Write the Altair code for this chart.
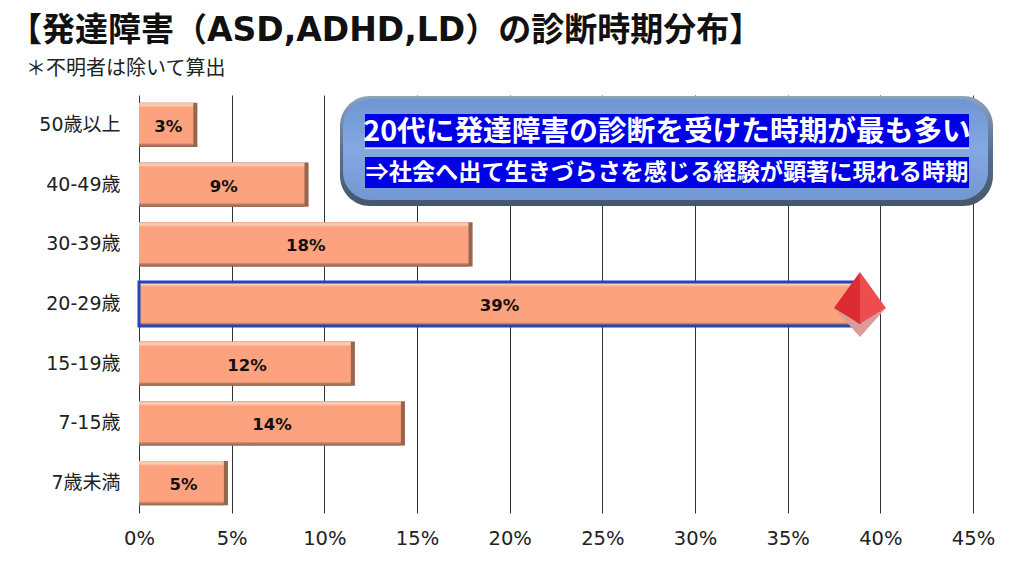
import altair as alt
import pandas as pd

ages = ["50歳以上", "40-49歳", "30-39歳", "20-29歳", "15-19歳", "7-15歳", "7歳未満"]
values = [3.15, 9.15, 18.0, 38.9, 11.65, 14.35, 4.8]
labels = ["3%", "9%", "18%", "39%", "12%", "14%", "5%"]
highlight = [False, False, False, True, False, False, False]
x_ticks = [0, 5, 10, 15, 20, 25, 30, 35, 40, 45]

title_text = "【発達障害（ASD,ADHD,LD）の診断時期分布】"
note_text = "＊不明者は除いて算出"
call_1 = "20代に発達障害の診断を受けた時期が最も多い"
call_2 = "⇒社会へ出て生きづらさを感じる経験が顕著に現れる時期"

FONT = "DejaVu Sans, Noto Sans CJK JP"
JP = "Noto Sans CJK JP"

df = pd.DataFrame({"age": ages, "v": values, "label": labels, "hi": highlight})
df["mid"] = df["v"] / 2
df["inner"] = df["v"] - 0.22

x_scale = alt.Scale(domain=[0, 45], nice=False, zero=True)
x_axis = alt.Axis(values=x_ticks, labelExpr="datum.value + '%'", title=None, grid=True,
                  gridColor="#333333", gridWidth=1, domain=False, ticks=False, labelFlush=False,
                  labelFontSize=19.5, labelPadding=16, labelColor="#222222", labelFont=FONT)
x = alt.X("v:Q", scale=x_scale, axis=x_axis)
y = alt.Y("age:N", sort=ages, scale=alt.Scale(paddingInner=0.26, paddingOuter=0.13),
          axis=alt.Axis(title=None, domain=False, ticks=False, labelFontSize=19, labelPadding=19,
                        labelColor="#222222", labelFont=FONT, grid=False))

base = alt.Chart(df)

edge = base.mark_bar(color="#98654d").encode(x=x, y=y)
face = base.mark_bar(color=alt.Gradient(
    gradient="linear", x1=0, x2=0, y1=0, y2=1,
    stops=[alt.GradientStop(color="#f3c0a4", offset=0),
           alt.GradientStop(color="#fbcdb2", offset=0.06),
           alt.GradientStop(color="#fca27e", offset=0.11),
           alt.GradientStop(color="#fca27e", offset=0.91),
           alt.GradientStop(color="#b07c62", offset=0.95),
           alt.GradientStop(color="#98654d", offset=1)])).encode(
    x=alt.X("inner:Q", scale=x_scale, axis=x_axis), y=y)
hi_outline = base.transform_filter("datum.hi").mark_bar(
    fill=None, stroke="#2347b8", strokeWidth=3).encode(x=x, y=y)
text = base.mark_text(fontSize=16.5, fontWeight="bold", color="#111111", font=FONT, dy=2).encode(
    x=alt.X("mid:Q", scale=x_scale, axis=x_axis), y=y, text="label:N")

# diamond marker at the tip of the highlighted bar
hi_df = df[df["hi"]]
def facet(path, color):
    return alt.Chart(hi_df).mark_point(shape=path, filled=True, size=2704, color=color,
                                       opacity=1, strokeWidth=0).encode(
        x=alt.X("v:Q", scale=x_scale, axis=x_axis), y=y)
d_back = facet("M-1,0.15L0,1.27L1,0.15L0,0.77Z", "#dc9a98")
d_left = facet("M0,-1.23L-1,0.15L0,0.77Z", "#dc2c32")
d_right = facet("M0,-1.23L1,0.15L0,0.77Z", "#ee4d4f")

# callout panel
panel_fill = alt.Gradient(gradient="linear", x1=0, x2=0, y1=0, y2=1,
                          stops=[alt.GradientStop(color="#6f96d4", offset=0),
                                 alt.GradientStop(color="#84a8e2", offset=0.5),
                                 alt.GradientStop(color="#7397d2", offset=1)])
shadow_fill = alt.Gradient(gradient="linear", x1=0, x2=0, y1=0, y2=1,
                           stops=[alt.GradientStop(color="#8fa2bc", offset=0),
                                  alt.GradientStop(color="#56708f", offset=0.5),
                                  alt.GradientStop(color="#48566a", offset=1)])
one = alt.Chart(pd.DataFrame({"k": [0]}))
panel_shadow = one.mark_rect(color=shadow_fill, cornerRadius=30).encode(
    x=alt.value(201), x2=alt.value(854), y=alt.value(1), y2=alt.value(111))
panel = one.mark_rect(color=panel_fill, cornerRadius=28).encode(
    x=alt.value(204), x2=alt.value(849), y=alt.value(4), y2=alt.value(105))
band_1 = one.mark_rect(color="#0000e6").encode(
    x=alt.value(226), x2=alt.value(830), y=alt.value(19), y2=alt.value(52))
rule_1 = one.mark_rect(color="#dfe8fa").encode(
    x=alt.value(226), x2=alt.value(830), y=alt.value(53), y2=alt.value(54))
band_2 = one.mark_rect(color="#0000e6").encode(
    x=alt.value(226), x2=alt.value(830), y=alt.value(62), y2=alt.value(93))
text_1 = one.mark_text(text=call_1, color="white", fontWeight="bold", fontSize=28.7, font=JP).encode(
    x=alt.value(528), y=alt.value(37))
text_2 = one.mark_text(text=call_2, color="white", fontWeight="bold", fontSize=23.2, font=JP).encode(
    x=alt.value(528), y=alt.value(78))
note = one.mark_text(text=note_text, color="#222222", fontSize=20, font=JP, align="left").encode(
    x=alt.value(-113), y=alt.value(-26))

chart = alt.layer(edge, face, hi_outline, text, d_back, d_left, d_right,
                  panel_shadow, panel, band_1, rule_1, band_2, text_1, text_2, note).properties(
    width=834, height=418,
    title=alt.TitleParams(text=title_text, anchor="start", frame="group",
                          dx=-130, offset=11, font=FONT, fontSize=33, fontWeight="bold",
                          color="#111111"),
    padding={"left": 131, "top": 87, "right": 40, "bottom": 50},
    autosize="none",
    background="white",
).configure_view(stroke=None)

chart.save("out.html", embed_options={"renderer": "svg", "actions": False})
